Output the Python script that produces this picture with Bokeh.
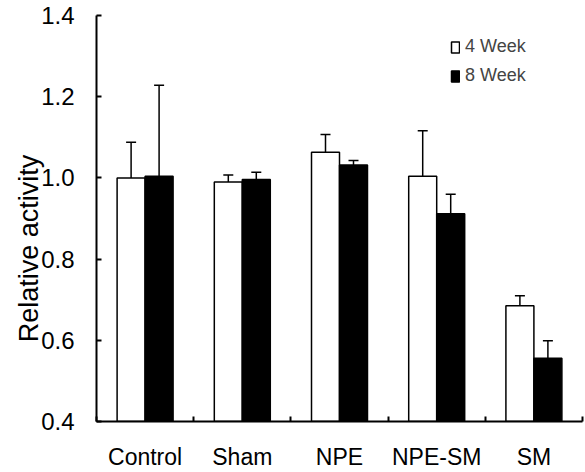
from bokeh.plotting import figure
from bokeh.models import (Range1d, FixedTicker, Whisker, TeeHead, ColumnDataSource,
                          Legend, LegendItem, CustomJSTickFormatter)
from bokeh.embed import file_html
from bokeh.resources import INLINE

categories = ["Control", "Sham", "NPE", "NPE-SM", "SM"]
week4 = [1.000, 0.990, 1.063, 1.004, 0.685]
week4_se = [0.088, 0.017, 0.044, 0.112, 0.025]
week8 = [1.004, 0.996, 1.032, 0.912, 0.556]
week8_se = [0.224, 0.018, 0.011, 0.048, 0.043]
y_ticks = [0.4, 0.6, 0.8, 1.0, 1.2, 1.4]
y_title = "Relative activity"

FONT = "Liberation Sans"
BAR_W = 0.288

centers = [i + 0.5 for i in range(len(categories))]
x4 = [c - BAR_W / 2 for c in centers]
x8 = [c + BAR_W / 2 for c in centers]

src4 = ColumnDataSource(dict(x=x4, top=week4, up=[v + e for v, e in zip(week4, week4_se)]))
src8 = ColumnDataSource(dict(x=x8, top=week8, up=[v + e for v, e in zip(week8, week8_se)]))

p = figure(width=585, height=472, output_backend="svg", toolbar_location=None,
           x_range=Range1d(0, len(categories)), y_range=Range1d(0.4, 1.4),
           min_border_left=96, min_border_right=3, min_border_top=15, min_border_bottom=50)
p.outline_line_color = None
p.xgrid.visible = False
p.ygrid.visible = False
p.background_fill_color = "white"

r4 = p.vbar(x="x", top="top", bottom=0.4, width=BAR_W, source=src4,
            fill_color="white", line_color="black", line_width=1.5)
r8 = p.vbar(x="x", top="top", bottom=0.4, width=BAR_W, source=src8,
            fill_color="black", line_color="black", line_width=1.5)

for src in (src4, src8):
    w = Whisker(base="x", lower="top", upper="up", source=src, dimension="height",
                line_color="black", line_width=1.5,
                upper_head=TeeHead(size=10, line_color="black", line_width=1.5),
                lower_head=None)
    p.add_layout(w)

# y axis
ya = p.yaxis[0]
ya.ticker = FixedTicker(ticks=y_ticks)
ya.formatter = CustomJSTickFormatter(code="return tick.toFixed(1);")
ya.major_tick_in = 5
ya.major_tick_out = 0
ya.minor_tick_in = 0
ya.minor_tick_out = 0
ya.axis_line_width = 2
ya.major_tick_line_width = 2
ya.major_label_text_font = FONT
ya.major_label_text_font_size = "24px"
ya.major_label_text_color = "black"
ya.major_label_standoff = 22
# trailing no-break spaces push the title a little below centre, as in the reference
ya.axis_label = y_title + "\u00a0" * 8
ya.axis_label_text_font = FONT
ya.axis_label_text_font_size = "27px"
ya.axis_label_text_font_style = "normal"
ya.axis_label_text_color = "black"
ya.axis_label_standoff = -6

# x axis
xa = p.xaxis[0]
xa.ticker = FixedTicker(ticks=centers, minor_ticks=list(range(len(categories) + 1)))
xa.major_label_overrides = {c: name for c, name in zip(centers, categories)}
xa.major_tick_in = 0
xa.major_tick_out = 0
xa.minor_tick_in = 5
xa.minor_tick_out = 0
xa.minor_tick_line_width = 2
xa.axis_line_width = 2
xa.major_label_text_font = FONT
xa.major_label_text_font_size = "23px"
xa.major_label_text_color = "black"
xa.major_label_standoff = 22

legend = Legend(items=[LegendItem(label="4 Week", renderers=[r4]),
                       LegendItem(label="8 Week", renderers=[r8])],
                location=(354, 335), padding=0, margin=0, spacing=8,
                glyph_width=10, glyph_height=14, label_standoff=5, label_height=20,
                label_text_font=FONT, label_text_font_size="18px",
                border_line_color=None, background_fill_alpha=0)
p.add_layout(legend)

open("out.html", "w").write(file_html(p, INLINE))
